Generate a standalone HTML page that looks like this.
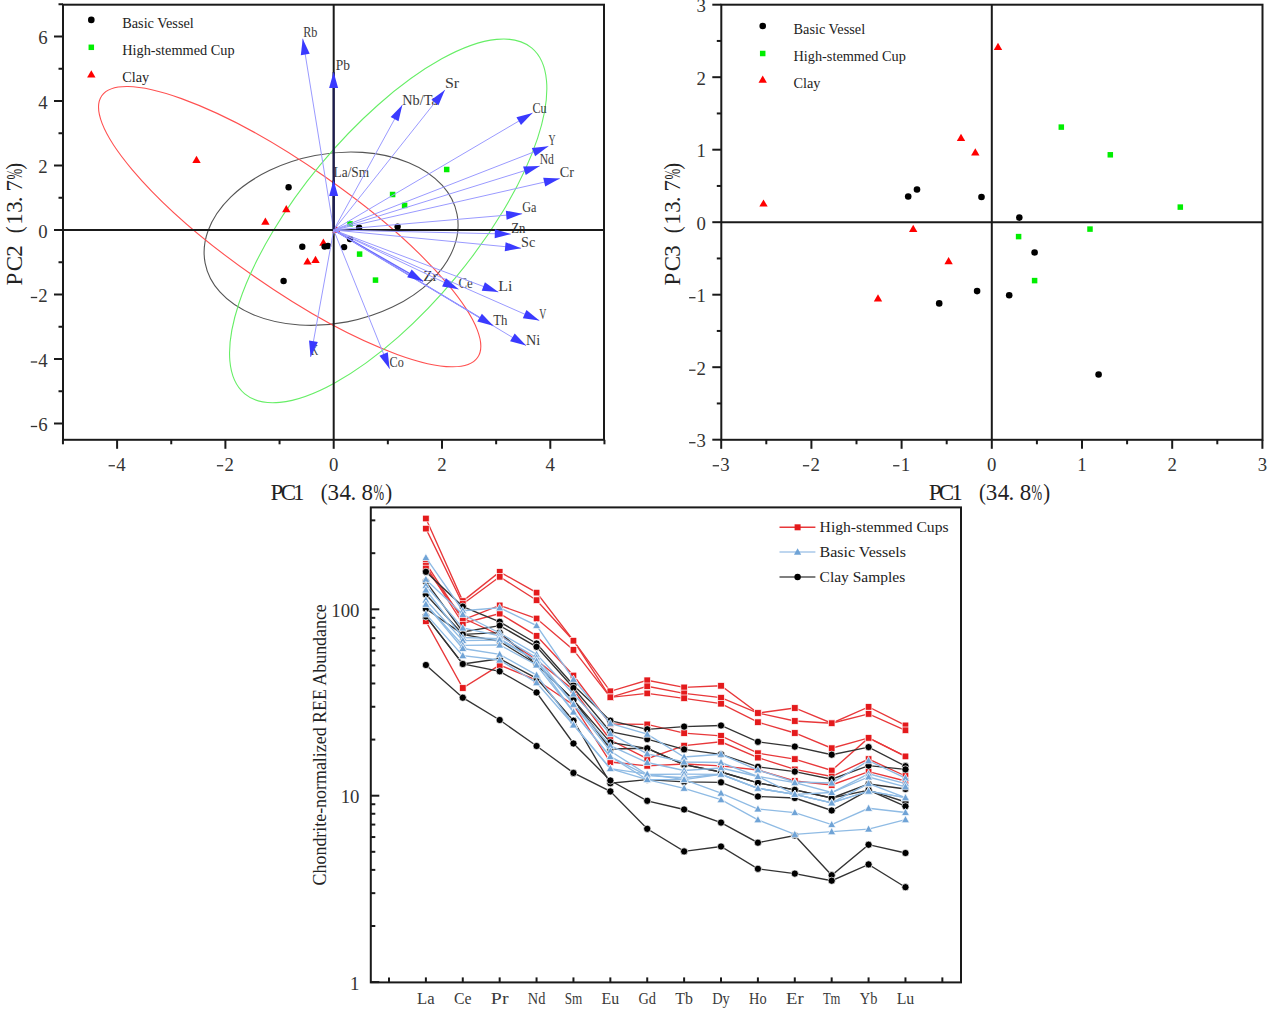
<!DOCTYPE html><html><head><meta charset="utf-8"><style>html,body{margin:0;padding:0;background:#fff;overflow:hidden}svg{display:block}</style></head><body><svg width="1269" height="1011" viewBox="0 0 1269 1011">
<rect width="1269" height="1011" fill="#fff"/>
<clipPath id="c1"><rect x="63.0" y="4.7" width="541.0" height="435.1"/></clipPath>
<g clip-path="url(#c1)">
<ellipse cx="331.1" cy="238.7" rx="128.3" ry="84.7" transform="rotate(-10.94 331.1 238.7)" fill="none" stroke="#555" stroke-width="1.1"/>
<ellipse cx="289.67" cy="226.64" rx="229.0" ry="61.14" transform="rotate(34.86 289.67 226.64)" fill="none" stroke="#ff5050" stroke-width="1.1"/>
<ellipse cx="388.2" cy="220.9" rx="224.7" ry="88.05" transform="rotate(-50.33 388.2 220.9)" fill="none" stroke="#66ee66" stroke-width="1.1"/>
</g>
<text x="303.20" y="37.30" font-family='"Liberation Serif", serif' font-size="14.5" fill="#3a3a3a" text-anchor="start" textLength="14.2" lengthAdjust="spacingAndGlyphs">Rb</text>
<text x="335.70" y="69.90" font-family='"Liberation Serif", serif' font-size="14.5" fill="#3a3a3a" text-anchor="start" textLength="14.2" lengthAdjust="spacingAndGlyphs">Pb</text>
<text x="402.30" y="104.60" font-family='"Liberation Serif", serif' font-size="14.5" fill="#3a3a3a" text-anchor="start" textLength="35.5" lengthAdjust="spacingAndGlyphs">Nb/Ta</text>
<text x="444.90" y="88.30" font-family='"Liberation Serif", serif' font-size="14.5" fill="#3a3a3a" text-anchor="start" textLength="14.2" lengthAdjust="spacingAndGlyphs">Sr</text>
<text x="532.50" y="112.60" font-family='"Liberation Serif", serif' font-size="14.5" fill="#3a3a3a" text-anchor="start" textLength="14.2" lengthAdjust="spacingAndGlyphs">Cu</text>
<text x="548.40" y="145.00" font-family='"Liberation Serif", serif' font-size="14.5" fill="#3a3a3a" text-anchor="start" textLength="7.1" lengthAdjust="spacingAndGlyphs">Y</text>
<text x="539.70" y="164.20" font-family='"Liberation Serif", serif' font-size="14.5" fill="#3a3a3a" text-anchor="start" textLength="14.2" lengthAdjust="spacingAndGlyphs">Nd</text>
<text x="559.80" y="177.00" font-family='"Liberation Serif", serif' font-size="14.5" fill="#3a3a3a" text-anchor="start" textLength="14.2" lengthAdjust="spacingAndGlyphs">Cr</text>
<text x="333.60" y="177.00" font-family='"Liberation Serif", serif' font-size="14.5" fill="#3a3a3a" text-anchor="start" textLength="35.5" lengthAdjust="spacingAndGlyphs">La/Sm</text>
<text x="522.20" y="212.00" font-family='"Liberation Serif", serif' font-size="14.5" fill="#3a3a3a" text-anchor="start" textLength="14.2" lengthAdjust="spacingAndGlyphs">Ga</text>
<text x="511.30" y="233.00" font-family='"Liberation Serif", serif' font-size="14.5" fill="#3a3a3a" text-anchor="start" textLength="14.2" lengthAdjust="spacingAndGlyphs">Zn</text>
<text x="521.10" y="246.60" font-family='"Liberation Serif", serif' font-size="14.5" fill="#3a3a3a" text-anchor="start" textLength="14.2" lengthAdjust="spacingAndGlyphs">Sc</text>
<text x="423.30" y="280.80" font-family='"Liberation Serif", serif' font-size="14.5" fill="#3a3a3a" text-anchor="start" textLength="14.2" lengthAdjust="spacingAndGlyphs">Zr</text>
<text x="458.50" y="288.00" font-family='"Liberation Serif", serif' font-size="14.5" fill="#3a3a3a" text-anchor="start" textLength="14.2" lengthAdjust="spacingAndGlyphs">Ce</text>
<text x="498.30" y="290.50" font-family='"Liberation Serif", serif' font-size="14.5" fill="#3a3a3a" text-anchor="start" textLength="14.2" lengthAdjust="spacingAndGlyphs">Li</text>
<text x="539.30" y="318.70" font-family='"Liberation Serif", serif' font-size="14.5" fill="#3a3a3a" text-anchor="start" textLength="7.1" lengthAdjust="spacingAndGlyphs">V</text>
<text x="493.30" y="324.70" font-family='"Liberation Serif", serif' font-size="14.5" fill="#3a3a3a" text-anchor="start" textLength="14.2" lengthAdjust="spacingAndGlyphs">Th</text>
<text x="526.10" y="344.50" font-family='"Liberation Serif", serif' font-size="14.5" fill="#3a3a3a" text-anchor="start" textLength="14.2" lengthAdjust="spacingAndGlyphs">Ni</text>
<text x="389.60" y="367.20" font-family='"Liberation Serif", serif' font-size="14.5" fill="#3a3a3a" text-anchor="start" textLength="14.2" lengthAdjust="spacingAndGlyphs">Co</text>
<text x="311.00" y="354.50" font-family='"Liberation Serif", serif' font-size="14.5" fill="#3a3a3a" text-anchor="start" textLength="7.1" lengthAdjust="spacingAndGlyphs">K</text>
<line x1="63.00" y1="230.00" x2="604.00" y2="230.00" stroke="#1a1a1a" stroke-width="2" />
<line x1="333.70" y1="4.70" x2="333.70" y2="439.80" stroke="#1a1a1a" stroke-width="2" />
<path d="M336.50 225.62L340.70 232.82L332.30 232.82Z" fill="#ff0000" />
<path d="M196.50 155.82L200.70 163.02L192.30 163.02Z" fill="#ff0000" />
<path d="M286.30 205.12L290.50 212.32L282.10 212.32Z" fill="#ff0000" />
<path d="M265.40 217.62L269.60 224.82L261.20 224.82Z" fill="#ff0000" />
<path d="M323.40 238.52L327.60 245.72L319.20 245.72Z" fill="#ff0000" />
<path d="M307.50 257.42L311.70 264.62L303.30 264.62Z" fill="#ff0000" />
<path d="M315.50 255.82L319.70 263.02L311.30 263.02Z" fill="#ff0000" />
<rect x="443.95" y="166.75" width="5.5" height="5.5" fill="#00ee00" />
<rect x="389.85" y="191.75" width="5.5" height="5.5" fill="#00ee00" />
<rect x="401.85" y="202.65" width="5.5" height="5.5" fill="#00ee00" />
<rect x="347.25" y="221.15" width="5.5" height="5.5" fill="#00ee00" />
<rect x="356.85" y="251.35" width="5.5" height="5.5" fill="#00ee00" />
<rect x="372.75" y="277.35" width="5.5" height="5.5" fill="#00ee00" />
<circle cx="288.60" cy="187.20" r="3.2" fill="#000" />
<circle cx="302.30" cy="246.80" r="3.2" fill="#000" />
<circle cx="324.60" cy="246.60" r="3.2" fill="#000" />
<circle cx="328.00" cy="246.00" r="3.2" fill="#000" />
<circle cx="283.60" cy="281.00" r="3.2" fill="#000" />
<circle cx="359.10" cy="227.80" r="3.2" fill="#000" />
<circle cx="397.60" cy="226.60" r="3.2" fill="#000" />
<circle cx="350.00" cy="239.10" r="3.2" fill="#000" />
<circle cx="344.10" cy="247.10" r="3.2" fill="#000" />
<line x1="333.70" y1="230.00" x2="302.70" y2="38.70" stroke="#9a9aff" stroke-width="1" />
<line x1="333.70" y1="230.00" x2="333.60" y2="71.90" stroke="#1c1c50" stroke-width="2" />
<line x1="333.70" y1="230.00" x2="402.30" y2="105.10" stroke="#9a9aff" stroke-width="1" />
<line x1="333.70" y1="230.00" x2="444.90" y2="89.90" stroke="#9a9aff" stroke-width="1" />
<line x1="333.70" y1="230.00" x2="532.50" y2="113.00" stroke="#9a9aff" stroke-width="1" />
<line x1="333.70" y1="230.00" x2="548.40" y2="146.30" stroke="#9a9aff" stroke-width="1" />
<line x1="333.70" y1="230.00" x2="539.70" y2="166.00" stroke="#9a9aff" stroke-width="1" />
<line x1="333.70" y1="230.00" x2="559.80" y2="178.60" stroke="#9a9aff" stroke-width="1" />
<line x1="333.70" y1="230.00" x2="333.60" y2="180.00" stroke="#1c1c50" stroke-width="2" />
<line x1="333.70" y1="230.00" x2="522.20" y2="213.80" stroke="#9a9aff" stroke-width="1" />
<line x1="333.70" y1="230.00" x2="510.80" y2="234.10" stroke="#9a9aff" stroke-width="1" />
<line x1="333.70" y1="230.00" x2="521.10" y2="248.20" stroke="#9a9aff" stroke-width="1" />
<line x1="333.70" y1="230.00" x2="423.30" y2="281.40" stroke="#6666ff" stroke-width="1.3" />
<line x1="333.70" y1="230.00" x2="458.50" y2="289.20" stroke="#9a9aff" stroke-width="1" />
<line x1="333.70" y1="230.00" x2="498.30" y2="292.10" stroke="#9a9aff" stroke-width="1" />
<line x1="333.70" y1="230.00" x2="539.30" y2="320.60" stroke="#9a9aff" stroke-width="1" />
<line x1="333.70" y1="230.00" x2="493.30" y2="325.80" stroke="#6666ff" stroke-width="1.3" />
<line x1="333.70" y1="230.00" x2="526.10" y2="345.60" stroke="#9a9aff" stroke-width="1" />
<line x1="333.70" y1="230.00" x2="389.60" y2="368.80" stroke="#9a9aff" stroke-width="1" />
<line x1="333.70" y1="230.00" x2="310.60" y2="357.00" stroke="#9a9aff" stroke-width="1" />
<path d="M302.70 38.70L309.70 53.77L300.82 55.21Z" fill="#3a3aff"/>
<path d="M333.60 71.90L338.11 87.90L329.11 87.90Z" fill="#3a3aff"/>
<path d="M402.30 105.10L398.54 121.29L390.65 116.96Z" fill="#3a3aff"/>
<path d="M444.90 89.90L438.48 105.23L431.43 99.63Z" fill="#3a3aff"/>
<path d="M532.50 113.00L520.99 124.99L516.43 117.24Z" fill="#3a3aff"/>
<path d="M548.40 146.30L535.13 156.30L531.86 147.92Z" fill="#3a3aff"/>
<path d="M539.70 166.00L525.76 175.04L523.09 166.45Z" fill="#3a3aff"/>
<path d="M559.80 178.60L545.20 186.53L543.20 177.76Z" fill="#3a3aff"/>
<path d="M333.60 180.00L338.13 195.99L329.13 196.01Z" fill="#3a3aff"/>
<path d="M522.20 213.80L506.64 219.65L505.87 210.69Z" fill="#3a3aff"/>
<path d="M510.80 234.10L494.70 238.23L494.91 229.23Z" fill="#3a3aff"/>
<path d="M521.10 248.20L504.74 251.13L505.61 242.17Z" fill="#3a3aff"/>
<path d="M423.30 281.40L407.18 277.34L411.66 269.54Z" fill="#3a3aff"/>
<path d="M458.50 289.20L442.12 286.41L445.97 278.28Z" fill="#3a3aff"/>
<path d="M498.30 292.10L481.74 290.66L484.92 282.24Z" fill="#3a3aff"/>
<path d="M539.30 320.60L522.84 318.27L526.47 310.03Z" fill="#3a3aff"/>
<path d="M493.30 325.80L477.27 321.42L481.90 313.71Z" fill="#3a3aff"/>
<path d="M526.10 345.60L510.07 341.22L514.70 333.50Z" fill="#3a3aff"/>
<path d="M389.60 368.80L379.45 355.64L387.80 352.28Z" fill="#3a3aff"/>
<path d="M310.60 357.00L309.04 340.45L317.89 342.06Z" fill="#3a3aff"/>
<rect x="63.0" y="4.7" width="541.0" height="435.1" fill="none" stroke="#1a1a1a" stroke-width="2"/>
<line x1="54.00" y1="423.50" x2="63.00" y2="423.50" stroke="#1a1a1a" stroke-width="2" />
<text x="47.70" y="431.25" font-family='"Liberation Serif", serif' font-size="18.8" fill="#333" text-anchor="end" >6</text>
<rect x="30.80" y="425.85" width="6.4" height="1.3" fill="#333"/>
<line x1="58.50" y1="391.25" x2="63.00" y2="391.25" stroke="#1a1a1a" stroke-width="2" />
<line x1="54.00" y1="359.00" x2="63.00" y2="359.00" stroke="#1a1a1a" stroke-width="2" />
<text x="47.70" y="366.75" font-family='"Liberation Serif", serif' font-size="18.8" fill="#333" text-anchor="end" >4</text>
<rect x="30.80" y="361.35" width="6.4" height="1.3" fill="#333"/>
<line x1="58.50" y1="326.75" x2="63.00" y2="326.75" stroke="#1a1a1a" stroke-width="2" />
<line x1="54.00" y1="294.50" x2="63.00" y2="294.50" stroke="#1a1a1a" stroke-width="2" />
<text x="47.70" y="302.25" font-family='"Liberation Serif", serif' font-size="18.8" fill="#333" text-anchor="end" >2</text>
<rect x="30.80" y="296.85" width="6.4" height="1.3" fill="#333"/>
<line x1="58.50" y1="262.25" x2="63.00" y2="262.25" stroke="#1a1a1a" stroke-width="2" />
<line x1="54.00" y1="230.00" x2="63.00" y2="230.00" stroke="#1a1a1a" stroke-width="2" />
<text x="47.70" y="237.75" font-family='"Liberation Serif", serif' font-size="18.8" fill="#333" text-anchor="end" >0</text>
<line x1="58.50" y1="197.75" x2="63.00" y2="197.75" stroke="#1a1a1a" stroke-width="2" />
<line x1="54.00" y1="165.50" x2="63.00" y2="165.50" stroke="#1a1a1a" stroke-width="2" />
<text x="47.70" y="173.25" font-family='"Liberation Serif", serif' font-size="18.8" fill="#333" text-anchor="end" >2</text>
<line x1="58.50" y1="133.25" x2="63.00" y2="133.25" stroke="#1a1a1a" stroke-width="2" />
<line x1="54.00" y1="101.00" x2="63.00" y2="101.00" stroke="#1a1a1a" stroke-width="2" />
<text x="47.70" y="108.75" font-family='"Liberation Serif", serif' font-size="18.8" fill="#333" text-anchor="end" >4</text>
<line x1="58.50" y1="68.75" x2="63.00" y2="68.75" stroke="#1a1a1a" stroke-width="2" />
<line x1="54.00" y1="36.50" x2="63.00" y2="36.50" stroke="#1a1a1a" stroke-width="2" />
<text x="47.70" y="44.25" font-family='"Liberation Serif", serif' font-size="18.8" fill="#333" text-anchor="end" >6</text>
<line x1="58.50" y1="4.25" x2="63.00" y2="4.25" stroke="#1a1a1a" stroke-width="2" />
<line x1="62.95" y1="439.80" x2="62.95" y2="444.30" stroke="#1a1a1a" stroke-width="2" />
<line x1="117.10" y1="439.80" x2="117.10" y2="448.80" stroke="#1a1a1a" stroke-width="2" />
<text x="120.90" y="470.50" font-family='"Liberation Serif", serif' font-size="18.8" fill="#333" text-anchor="middle" >4</text>
<rect x="108.60" y="465.10" width="6.3" height="1.3" fill="#333"/>
<line x1="171.25" y1="439.80" x2="171.25" y2="444.30" stroke="#1a1a1a" stroke-width="2" />
<line x1="225.40" y1="439.80" x2="225.40" y2="448.80" stroke="#1a1a1a" stroke-width="2" />
<text x="229.20" y="470.50" font-family='"Liberation Serif", serif' font-size="18.8" fill="#333" text-anchor="middle" >2</text>
<rect x="216.90" y="465.10" width="6.3" height="1.3" fill="#333"/>
<line x1="279.55" y1="439.80" x2="279.55" y2="444.30" stroke="#1a1a1a" stroke-width="2" />
<line x1="333.70" y1="439.80" x2="333.70" y2="448.80" stroke="#1a1a1a" stroke-width="2" />
<text x="333.70" y="470.50" font-family='"Liberation Serif", serif' font-size="18.8" fill="#333" text-anchor="middle" >0</text>
<line x1="387.85" y1="439.80" x2="387.85" y2="444.30" stroke="#1a1a1a" stroke-width="2" />
<line x1="442.00" y1="439.80" x2="442.00" y2="448.80" stroke="#1a1a1a" stroke-width="2" />
<text x="442.00" y="470.50" font-family='"Liberation Serif", serif' font-size="18.8" fill="#333" text-anchor="middle" >2</text>
<line x1="496.15" y1="439.80" x2="496.15" y2="444.30" stroke="#1a1a1a" stroke-width="2" />
<line x1="550.30" y1="439.80" x2="550.30" y2="448.80" stroke="#1a1a1a" stroke-width="2" />
<text x="550.30" y="470.50" font-family='"Liberation Serif", serif' font-size="18.8" fill="#333" text-anchor="middle" >4</text>
<line x1="604.45" y1="439.80" x2="604.45" y2="444.30" stroke="#1a1a1a" stroke-width="2" />
<circle cx="91.30" cy="19.90" r="3.3" fill="#000" />
<rect x="88.55" y="44.55" width="5.5" height="5.5" fill="#00ee00" />
<path d="M91.30 70.32L95.50 77.52L87.10 77.52Z" fill="#ff0000" />
<text x="122.20" y="27.50" font-family='"Liberation Serif", serif' font-size="14.3" fill="#222" text-anchor="start" >Basic Vessel</text>
<text x="122.20" y="54.60" font-family='"Liberation Serif", serif' font-size="14.3" fill="#222" text-anchor="start" >High-stemmed Cup</text>
<text x="122.20" y="81.80" font-family='"Liberation Serif", serif' font-size="14.3" fill="#222" text-anchor="start" >Clay</text>
<text x="277.00" y="499.80" font-family='"Liberation Serif", serif' font-size="23" fill="#222" text-anchor="middle" >P</text>
<text x="288.40" y="499.80" font-family='"Liberation Serif", serif' font-size="23" fill="#222" text-anchor="middle" >C</text>
<text x="298.80" y="499.80" font-family='"Liberation Serif", serif' font-size="23" fill="#222" text-anchor="middle" >1</text>
<text x="324.30" y="499.8" font-family='"Liberation Serif", serif' font-size="23" fill="#222" text-anchor="middle" transform="translate(324.30 499.8) scale(0.9 1.04) translate(-324.30 -499.8)">(</text>
<text x="333.30" y="499.80" font-family='"Liberation Serif", serif' font-size="23" fill="#222" text-anchor="middle" >3</text>
<text x="345.30" y="499.80" font-family='"Liberation Serif", serif' font-size="23" fill="#222" text-anchor="middle" >4</text>
<text x="353.30" y="499.80" font-family='"Liberation Serif", serif' font-size="23" fill="#222" text-anchor="middle" >.</text>
<text x="367.30" y="499.80" font-family='"Liberation Serif", serif' font-size="23" fill="#222" text-anchor="middle" >8</text>
<text x="378.80" y="499.80" font-family='"Liberation Serif", serif' font-size="23" fill="#222" text-anchor="middle" textLength="10.6" lengthAdjust="spacingAndGlyphs">%</text>
<text x="388.60" y="499.8" font-family='"Liberation Serif", serif' font-size="23" fill="#222" text-anchor="middle" transform="translate(388.60 499.8) scale(0.9 1.04) translate(-388.60 -499.8)">)</text>
<g transform="translate(21.8 0) rotate(-90)">
<text x="-279.00" y="0.00" font-family='"Liberation Serif", serif' font-size="23" fill="#222" text-anchor="middle" >P</text>
<text x="-263.60" y="0.00" font-family='"Liberation Serif", serif' font-size="23" fill="#222" text-anchor="middle" >C</text>
<text x="-251.10" y="0.00" font-family='"Liberation Serif", serif' font-size="23" fill="#222" text-anchor="middle" >2</text>
<text x="-229.80" y="0" font-family='"Liberation Serif", serif' font-size="23" fill="#222" text-anchor="middle" transform="translate(-229.80 0) scale(0.9 1.04) translate(229.80 0)">(</text>
<text x="-219.10" y="0.00" font-family='"Liberation Serif", serif' font-size="23" fill="#222" text-anchor="middle" >1</text>
<text x="-207.10" y="0.00" font-family='"Liberation Serif", serif' font-size="23" fill="#222" text-anchor="middle" >3</text>
<text x="-199.40" y="0.00" font-family='"Liberation Serif", serif' font-size="23" fill="#222" text-anchor="middle" >.</text>
<text x="-185.70" y="0.00" font-family='"Liberation Serif", serif' font-size="23" fill="#222" text-anchor="middle" >7</text>
<text x="-174.20" y="0.00" font-family='"Liberation Serif", serif' font-size="23" fill="#222" text-anchor="middle" textLength="10.6" lengthAdjust="spacingAndGlyphs">%</text>
<text x="-166.40" y="0" font-family='"Liberation Serif", serif' font-size="23" fill="#222" text-anchor="middle" transform="translate(-166.40 0) scale(0.9 1.04) translate(166.40 0)">)</text>
</g>
<line x1="721.30" y1="222.20" x2="1262.50" y2="222.20" stroke="#1a1a1a" stroke-width="2" />
<line x1="991.80" y1="4.70" x2="991.80" y2="439.80" stroke="#1a1a1a" stroke-width="2" />
<path d="M998.00 42.82L1002.20 50.02L993.80 50.02Z" fill="#ff0000" />
<path d="M961.00 133.82L965.20 141.02L956.80 141.02Z" fill="#ff0000" />
<path d="M975.30 148.22L979.50 155.42L971.10 155.42Z" fill="#ff0000" />
<path d="M763.50 199.42L767.70 206.62L759.30 206.62Z" fill="#ff0000" />
<path d="M913.20 224.82L917.40 232.02L909.00 232.02Z" fill="#ff0000" />
<path d="M948.60 257.12L952.80 264.32L944.40 264.32Z" fill="#ff0000" />
<path d="M878.00 294.32L882.20 301.52L873.80 301.52Z" fill="#ff0000" />
<rect x="1058.55" y="124.35" width="5.5" height="5.5" fill="#00ee00" />
<rect x="1107.55" y="152.05" width="5.5" height="5.5" fill="#00ee00" />
<rect x="1177.55" y="204.35" width="5.5" height="5.5" fill="#00ee00" />
<rect x="1087.25" y="226.35" width="5.5" height="5.5" fill="#00ee00" />
<rect x="1015.85" y="233.85" width="5.5" height="5.5" fill="#00ee00" />
<rect x="1031.85" y="277.85" width="5.5" height="5.5" fill="#00ee00" />
<circle cx="917.00" cy="189.50" r="3.3" fill="#000" />
<circle cx="908.20" cy="196.50" r="3.3" fill="#000" />
<circle cx="981.50" cy="197.00" r="3.3" fill="#000" />
<circle cx="1019.30" cy="217.60" r="3.3" fill="#000" />
<circle cx="1034.60" cy="252.50" r="3.3" fill="#000" />
<circle cx="1009.20" cy="295.20" r="3.3" fill="#000" />
<circle cx="1098.60" cy="374.50" r="3.3" fill="#000" />
<circle cx="977.10" cy="291.10" r="3.3" fill="#000" />
<circle cx="939.20" cy="303.40" r="3.3" fill="#000" />
<rect x="721.3" y="4.7" width="541.2" height="435.1" fill="none" stroke="#1a1a1a" stroke-width="2"/>
<line x1="712.30" y1="439.70" x2="721.30" y2="439.70" stroke="#1a1a1a" stroke-width="2" />
<text x="706.00" y="447.45" font-family='"Liberation Serif", serif' font-size="18.8" fill="#333" text-anchor="end" >3</text>
<rect x="689.10" y="442.05" width="6.4" height="1.3" fill="#333"/>
<line x1="716.80" y1="403.45" x2="721.30" y2="403.45" stroke="#1a1a1a" stroke-width="2" />
<line x1="712.30" y1="367.20" x2="721.30" y2="367.20" stroke="#1a1a1a" stroke-width="2" />
<text x="706.00" y="374.95" font-family='"Liberation Serif", serif' font-size="18.8" fill="#333" text-anchor="end" >2</text>
<rect x="689.10" y="369.55" width="6.4" height="1.3" fill="#333"/>
<line x1="716.80" y1="330.95" x2="721.30" y2="330.95" stroke="#1a1a1a" stroke-width="2" />
<line x1="712.30" y1="294.70" x2="721.30" y2="294.70" stroke="#1a1a1a" stroke-width="2" />
<text x="706.00" y="302.45" font-family='"Liberation Serif", serif' font-size="18.8" fill="#333" text-anchor="end" >1</text>
<rect x="689.10" y="297.05" width="6.4" height="1.3" fill="#333"/>
<line x1="716.80" y1="258.45" x2="721.30" y2="258.45" stroke="#1a1a1a" stroke-width="2" />
<line x1="712.30" y1="222.20" x2="721.30" y2="222.20" stroke="#1a1a1a" stroke-width="2" />
<text x="706.00" y="229.95" font-family='"Liberation Serif", serif' font-size="18.8" fill="#333" text-anchor="end" >0</text>
<line x1="716.80" y1="185.95" x2="721.30" y2="185.95" stroke="#1a1a1a" stroke-width="2" />
<line x1="712.30" y1="149.70" x2="721.30" y2="149.70" stroke="#1a1a1a" stroke-width="2" />
<text x="706.00" y="157.45" font-family='"Liberation Serif", serif' font-size="18.8" fill="#333" text-anchor="end" >1</text>
<line x1="716.80" y1="113.45" x2="721.30" y2="113.45" stroke="#1a1a1a" stroke-width="2" />
<line x1="712.30" y1="77.20" x2="721.30" y2="77.20" stroke="#1a1a1a" stroke-width="2" />
<text x="706.00" y="84.95" font-family='"Liberation Serif", serif' font-size="18.8" fill="#333" text-anchor="end" >2</text>
<line x1="716.80" y1="40.95" x2="721.30" y2="40.95" stroke="#1a1a1a" stroke-width="2" />
<line x1="712.30" y1="4.70" x2="721.30" y2="4.70" stroke="#1a1a1a" stroke-width="2" />
<text x="706.00" y="12.45" font-family='"Liberation Serif", serif' font-size="18.8" fill="#333" text-anchor="end" >3</text>
<line x1="721.20" y1="439.80" x2="721.20" y2="448.80" stroke="#1a1a1a" stroke-width="2" />
<text x="725.00" y="470.50" font-family='"Liberation Serif", serif' font-size="18.8" fill="#333" text-anchor="middle" >3</text>
<rect x="712.70" y="465.10" width="6.3" height="1.3" fill="#333"/>
<line x1="766.30" y1="439.80" x2="766.30" y2="444.30" stroke="#1a1a1a" stroke-width="2" />
<line x1="811.40" y1="439.80" x2="811.40" y2="448.80" stroke="#1a1a1a" stroke-width="2" />
<text x="815.20" y="470.50" font-family='"Liberation Serif", serif' font-size="18.8" fill="#333" text-anchor="middle" >2</text>
<rect x="802.90" y="465.10" width="6.3" height="1.3" fill="#333"/>
<line x1="856.50" y1="439.80" x2="856.50" y2="444.30" stroke="#1a1a1a" stroke-width="2" />
<line x1="901.60" y1="439.80" x2="901.60" y2="448.80" stroke="#1a1a1a" stroke-width="2" />
<text x="905.40" y="470.50" font-family='"Liberation Serif", serif' font-size="18.8" fill="#333" text-anchor="middle" >1</text>
<rect x="893.10" y="465.10" width="6.3" height="1.3" fill="#333"/>
<line x1="946.70" y1="439.80" x2="946.70" y2="444.30" stroke="#1a1a1a" stroke-width="2" />
<line x1="991.80" y1="439.80" x2="991.80" y2="448.80" stroke="#1a1a1a" stroke-width="2" />
<text x="991.80" y="470.50" font-family='"Liberation Serif", serif' font-size="18.8" fill="#333" text-anchor="middle" >0</text>
<line x1="1036.90" y1="439.80" x2="1036.90" y2="444.30" stroke="#1a1a1a" stroke-width="2" />
<line x1="1082.00" y1="439.80" x2="1082.00" y2="448.80" stroke="#1a1a1a" stroke-width="2" />
<text x="1082.00" y="470.50" font-family='"Liberation Serif", serif' font-size="18.8" fill="#333" text-anchor="middle" >1</text>
<line x1="1127.10" y1="439.80" x2="1127.10" y2="444.30" stroke="#1a1a1a" stroke-width="2" />
<line x1="1172.20" y1="439.80" x2="1172.20" y2="448.80" stroke="#1a1a1a" stroke-width="2" />
<text x="1172.20" y="470.50" font-family='"Liberation Serif", serif' font-size="18.8" fill="#333" text-anchor="middle" >2</text>
<line x1="1217.30" y1="439.80" x2="1217.30" y2="444.30" stroke="#1a1a1a" stroke-width="2" />
<line x1="1262.40" y1="439.80" x2="1262.40" y2="448.80" stroke="#1a1a1a" stroke-width="2" />
<text x="1262.40" y="470.50" font-family='"Liberation Serif", serif' font-size="18.8" fill="#333" text-anchor="middle" >3</text>
<circle cx="762.70" cy="26.00" r="3.3" fill="#000" />
<rect x="759.95" y="50.75" width="5.5" height="5.5" fill="#00ee00" />
<path d="M762.70 75.62L766.90 82.82L758.50 82.82Z" fill="#ff0000" />
<text x="793.50" y="33.70" font-family='"Liberation Serif", serif' font-size="14.3" fill="#222" text-anchor="start" >Basic Vessel</text>
<text x="793.50" y="60.80" font-family='"Liberation Serif", serif' font-size="14.3" fill="#222" text-anchor="start" >High-stemmed Cup</text>
<text x="793.50" y="88.00" font-family='"Liberation Serif", serif' font-size="14.3" fill="#222" text-anchor="start" >Clay</text>
<text x="935.10" y="499.80" font-family='"Liberation Serif", serif' font-size="23" fill="#222" text-anchor="middle" >P</text>
<text x="946.50" y="499.80" font-family='"Liberation Serif", serif' font-size="23" fill="#222" text-anchor="middle" >C</text>
<text x="956.90" y="499.80" font-family='"Liberation Serif", serif' font-size="23" fill="#222" text-anchor="middle" >1</text>
<text x="982.40" y="499.8" font-family='"Liberation Serif", serif' font-size="23" fill="#222" text-anchor="middle" transform="translate(982.40 499.8) scale(0.9 1.04) translate(-982.40 -499.8)">(</text>
<text x="991.40" y="499.80" font-family='"Liberation Serif", serif' font-size="23" fill="#222" text-anchor="middle" >3</text>
<text x="1003.40" y="499.80" font-family='"Liberation Serif", serif' font-size="23" fill="#222" text-anchor="middle" >4</text>
<text x="1011.40" y="499.80" font-family='"Liberation Serif", serif' font-size="23" fill="#222" text-anchor="middle" >.</text>
<text x="1025.40" y="499.80" font-family='"Liberation Serif", serif' font-size="23" fill="#222" text-anchor="middle" >8</text>
<text x="1036.90" y="499.80" font-family='"Liberation Serif", serif' font-size="23" fill="#222" text-anchor="middle" textLength="10.6" lengthAdjust="spacingAndGlyphs">%</text>
<text x="1046.70" y="499.8" font-family='"Liberation Serif", serif' font-size="23" fill="#222" text-anchor="middle" transform="translate(1046.70 499.8) scale(0.9 1.04) translate(-1046.70 -499.8)">)</text>
<g transform="translate(680.2 0) rotate(-90)">
<text x="-279.00" y="0.00" font-family='"Liberation Serif", serif' font-size="23" fill="#222" text-anchor="middle" >P</text>
<text x="-263.60" y="0.00" font-family='"Liberation Serif", serif' font-size="23" fill="#222" text-anchor="middle" >C</text>
<text x="-251.10" y="0.00" font-family='"Liberation Serif", serif' font-size="23" fill="#222" text-anchor="middle" >3</text>
<text x="-229.80" y="0" font-family='"Liberation Serif", serif' font-size="23" fill="#222" text-anchor="middle" transform="translate(-229.80 0) scale(0.9 1.04) translate(229.80 0)">(</text>
<text x="-219.10" y="0.00" font-family='"Liberation Serif", serif' font-size="23" fill="#222" text-anchor="middle" >1</text>
<text x="-207.10" y="0.00" font-family='"Liberation Serif", serif' font-size="23" fill="#222" text-anchor="middle" >3</text>
<text x="-199.40" y="0.00" font-family='"Liberation Serif", serif' font-size="23" fill="#222" text-anchor="middle" >.</text>
<text x="-185.70" y="0.00" font-family='"Liberation Serif", serif' font-size="23" fill="#222" text-anchor="middle" >7</text>
<text x="-174.20" y="0.00" font-family='"Liberation Serif", serif' font-size="23" fill="#222" text-anchor="middle" textLength="10.6" lengthAdjust="spacingAndGlyphs">%</text>
<text x="-166.40" y="0" font-family='"Liberation Serif", serif' font-size="23" fill="#222" text-anchor="middle" transform="translate(-166.40 0) scale(0.9 1.04) translate(166.40 0)">)</text>
</g>
<polyline points="425.9,518.5 462.8,601.1 499.7,571.9 536.6,592.6 573.5,640.7 610.3,691.3 647.2,680.3 684.1,687.4 721.0,685.8 757.9,713.0 794.8,708.0 831.7,723.2 868.6,706.9 905.5,725.4" fill="none" stroke="#e8383a" stroke-width="1.35"/>
<rect x="422.60" y="515.20" width="6.6" height="6.6" fill="#e41a1c" stroke="#fff" stroke-width="0.7"/>
<rect x="459.49" y="597.80" width="6.6" height="6.6" fill="#e41a1c" stroke="#fff" stroke-width="0.7"/>
<rect x="496.38" y="568.60" width="6.6" height="6.6" fill="#e41a1c" stroke="#fff" stroke-width="0.7"/>
<rect x="533.27" y="589.30" width="6.6" height="6.6" fill="#e41a1c" stroke="#fff" stroke-width="0.7"/>
<rect x="570.16" y="637.40" width="6.6" height="6.6" fill="#e41a1c" stroke="#fff" stroke-width="0.7"/>
<rect x="607.05" y="688.00" width="6.6" height="6.6" fill="#e41a1c" stroke="#fff" stroke-width="0.7"/>
<rect x="643.94" y="677.00" width="6.6" height="6.6" fill="#e41a1c" stroke="#fff" stroke-width="0.7"/>
<rect x="680.83" y="684.10" width="6.6" height="6.6" fill="#e41a1c" stroke="#fff" stroke-width="0.7"/>
<rect x="717.72" y="682.50" width="6.6" height="6.6" fill="#e41a1c" stroke="#fff" stroke-width="0.7"/>
<rect x="754.61" y="709.70" width="6.6" height="6.6" fill="#e41a1c" stroke="#fff" stroke-width="0.7"/>
<rect x="791.50" y="704.70" width="6.6" height="6.6" fill="#e41a1c" stroke="#fff" stroke-width="0.7"/>
<rect x="828.39" y="719.90" width="6.6" height="6.6" fill="#e41a1c" stroke="#fff" stroke-width="0.7"/>
<rect x="865.28" y="703.60" width="6.6" height="6.6" fill="#e41a1c" stroke="#fff" stroke-width="0.7"/>
<rect x="902.17" y="722.10" width="6.6" height="6.6" fill="#e41a1c" stroke="#fff" stroke-width="0.7"/>
<polyline points="425.9,528.6 462.8,604.0 499.7,576.8 536.6,600.2 573.5,640.7 610.3,697.3 647.2,686.3 684.1,693.4 721.0,697.7 757.9,713.0 794.8,721.0 831.7,723.2 868.6,713.9 905.5,730.3" fill="none" stroke="#e8383a" stroke-width="1.35"/>
<rect x="422.60" y="525.30" width="6.6" height="6.6" fill="#e41a1c" stroke="#fff" stroke-width="0.7"/>
<rect x="459.49" y="600.70" width="6.6" height="6.6" fill="#e41a1c" stroke="#fff" stroke-width="0.7"/>
<rect x="496.38" y="573.50" width="6.6" height="6.6" fill="#e41a1c" stroke="#fff" stroke-width="0.7"/>
<rect x="533.27" y="596.90" width="6.6" height="6.6" fill="#e41a1c" stroke="#fff" stroke-width="0.7"/>
<rect x="570.16" y="637.40" width="6.6" height="6.6" fill="#e41a1c" stroke="#fff" stroke-width="0.7"/>
<rect x="607.05" y="694.00" width="6.6" height="6.6" fill="#e41a1c" stroke="#fff" stroke-width="0.7"/>
<rect x="643.94" y="683.00" width="6.6" height="6.6" fill="#e41a1c" stroke="#fff" stroke-width="0.7"/>
<rect x="680.83" y="690.10" width="6.6" height="6.6" fill="#e41a1c" stroke="#fff" stroke-width="0.7"/>
<rect x="717.72" y="694.40" width="6.6" height="6.6" fill="#e41a1c" stroke="#fff" stroke-width="0.7"/>
<rect x="754.61" y="709.70" width="6.6" height="6.6" fill="#e41a1c" stroke="#fff" stroke-width="0.7"/>
<rect x="791.50" y="717.70" width="6.6" height="6.6" fill="#e41a1c" stroke="#fff" stroke-width="0.7"/>
<rect x="828.39" y="719.90" width="6.6" height="6.6" fill="#e41a1c" stroke="#fff" stroke-width="0.7"/>
<rect x="865.28" y="710.60" width="6.6" height="6.6" fill="#e41a1c" stroke="#fff" stroke-width="0.7"/>
<rect x="902.17" y="727.00" width="6.6" height="6.6" fill="#e41a1c" stroke="#fff" stroke-width="0.7"/>
<polyline points="425.9,563.4 462.8,620.0 499.7,605.4 536.6,618.5 573.5,649.9 610.3,697.3 647.2,693.4 684.1,698.3 721.0,703.7 757.9,722.2 794.8,733.0 831.7,748.2 868.6,737.9 905.5,756.4" fill="none" stroke="#e8383a" stroke-width="1.35"/>
<rect x="422.60" y="560.10" width="6.6" height="6.6" fill="#e41a1c" stroke="#fff" stroke-width="0.7"/>
<rect x="459.49" y="616.70" width="6.6" height="6.6" fill="#e41a1c" stroke="#fff" stroke-width="0.7"/>
<rect x="496.38" y="602.10" width="6.6" height="6.6" fill="#e41a1c" stroke="#fff" stroke-width="0.7"/>
<rect x="533.27" y="615.20" width="6.6" height="6.6" fill="#e41a1c" stroke="#fff" stroke-width="0.7"/>
<rect x="570.16" y="646.60" width="6.6" height="6.6" fill="#e41a1c" stroke="#fff" stroke-width="0.7"/>
<rect x="607.05" y="694.00" width="6.6" height="6.6" fill="#e41a1c" stroke="#fff" stroke-width="0.7"/>
<rect x="643.94" y="690.10" width="6.6" height="6.6" fill="#e41a1c" stroke="#fff" stroke-width="0.7"/>
<rect x="680.83" y="695.00" width="6.6" height="6.6" fill="#e41a1c" stroke="#fff" stroke-width="0.7"/>
<rect x="717.72" y="700.40" width="6.6" height="6.6" fill="#e41a1c" stroke="#fff" stroke-width="0.7"/>
<rect x="754.61" y="718.90" width="6.6" height="6.6" fill="#e41a1c" stroke="#fff" stroke-width="0.7"/>
<rect x="791.50" y="729.70" width="6.6" height="6.6" fill="#e41a1c" stroke="#fff" stroke-width="0.7"/>
<rect x="828.39" y="744.90" width="6.6" height="6.6" fill="#e41a1c" stroke="#fff" stroke-width="0.7"/>
<rect x="865.28" y="734.60" width="6.6" height="6.6" fill="#e41a1c" stroke="#fff" stroke-width="0.7"/>
<rect x="902.17" y="753.10" width="6.6" height="6.6" fill="#e41a1c" stroke="#fff" stroke-width="0.7"/>
<polyline points="425.9,566.0 462.8,623.5 499.7,613.6 536.6,635.9 573.5,675.5 610.3,724.0 647.2,724.4 684.1,733.1 721.0,735.8 757.9,753.2 794.8,759.1 831.7,770.5 868.6,737.9 905.5,756.4" fill="none" stroke="#e8383a" stroke-width="1.35"/>
<rect x="422.60" y="562.70" width="6.6" height="6.6" fill="#e41a1c" stroke="#fff" stroke-width="0.7"/>
<rect x="459.49" y="620.20" width="6.6" height="6.6" fill="#e41a1c" stroke="#fff" stroke-width="0.7"/>
<rect x="496.38" y="610.30" width="6.6" height="6.6" fill="#e41a1c" stroke="#fff" stroke-width="0.7"/>
<rect x="533.27" y="632.60" width="6.6" height="6.6" fill="#e41a1c" stroke="#fff" stroke-width="0.7"/>
<rect x="570.16" y="672.20" width="6.6" height="6.6" fill="#e41a1c" stroke="#fff" stroke-width="0.7"/>
<rect x="607.05" y="720.70" width="6.6" height="6.6" fill="#e41a1c" stroke="#fff" stroke-width="0.7"/>
<rect x="643.94" y="721.10" width="6.6" height="6.6" fill="#e41a1c" stroke="#fff" stroke-width="0.7"/>
<rect x="680.83" y="729.80" width="6.6" height="6.6" fill="#e41a1c" stroke="#fff" stroke-width="0.7"/>
<rect x="717.72" y="732.50" width="6.6" height="6.6" fill="#e41a1c" stroke="#fff" stroke-width="0.7"/>
<rect x="754.61" y="749.90" width="6.6" height="6.6" fill="#e41a1c" stroke="#fff" stroke-width="0.7"/>
<rect x="791.50" y="755.80" width="6.6" height="6.6" fill="#e41a1c" stroke="#fff" stroke-width="0.7"/>
<rect x="828.39" y="767.20" width="6.6" height="6.6" fill="#e41a1c" stroke="#fff" stroke-width="0.7"/>
<rect x="865.28" y="734.60" width="6.6" height="6.6" fill="#e41a1c" stroke="#fff" stroke-width="0.7"/>
<rect x="902.17" y="753.10" width="6.6" height="6.6" fill="#e41a1c" stroke="#fff" stroke-width="0.7"/>
<polyline points="425.9,568.5 462.8,618.0 499.7,635.0 536.6,660.0 573.5,690.0 610.3,740.0 647.2,758.7 684.1,745.6 721.0,741.8 757.9,757.6 794.8,769.4 831.7,776.5 868.6,759.1 905.5,776.0" fill="none" stroke="#e8383a" stroke-width="1.35"/>
<rect x="422.60" y="565.20" width="6.6" height="6.6" fill="#e41a1c" stroke="#fff" stroke-width="0.7"/>
<rect x="459.49" y="614.70" width="6.6" height="6.6" fill="#e41a1c" stroke="#fff" stroke-width="0.7"/>
<rect x="496.38" y="631.70" width="6.6" height="6.6" fill="#e41a1c" stroke="#fff" stroke-width="0.7"/>
<rect x="533.27" y="656.70" width="6.6" height="6.6" fill="#e41a1c" stroke="#fff" stroke-width="0.7"/>
<rect x="570.16" y="686.70" width="6.6" height="6.6" fill="#e41a1c" stroke="#fff" stroke-width="0.7"/>
<rect x="607.05" y="736.70" width="6.6" height="6.6" fill="#e41a1c" stroke="#fff" stroke-width="0.7"/>
<rect x="643.94" y="755.40" width="6.6" height="6.6" fill="#e41a1c" stroke="#fff" stroke-width="0.7"/>
<rect x="680.83" y="742.30" width="6.6" height="6.6" fill="#e41a1c" stroke="#fff" stroke-width="0.7"/>
<rect x="717.72" y="738.50" width="6.6" height="6.6" fill="#e41a1c" stroke="#fff" stroke-width="0.7"/>
<rect x="754.61" y="754.30" width="6.6" height="6.6" fill="#e41a1c" stroke="#fff" stroke-width="0.7"/>
<rect x="791.50" y="766.10" width="6.6" height="6.6" fill="#e41a1c" stroke="#fff" stroke-width="0.7"/>
<rect x="828.39" y="773.20" width="6.6" height="6.6" fill="#e41a1c" stroke="#fff" stroke-width="0.7"/>
<rect x="865.28" y="755.80" width="6.6" height="6.6" fill="#e41a1c" stroke="#fff" stroke-width="0.7"/>
<rect x="902.17" y="772.70" width="6.6" height="6.6" fill="#e41a1c" stroke="#fff" stroke-width="0.7"/>
<polyline points="425.9,621.3 462.8,688.0 499.7,665.1 536.6,680.0 573.5,705.0 610.3,762.0 647.2,765.8 684.1,764.0 721.0,765.8 757.9,770.0 794.8,781.0 831.7,785.0 868.6,771.6 905.5,781.0" fill="none" stroke="#e8383a" stroke-width="1.35"/>
<rect x="422.60" y="618.00" width="6.6" height="6.6" fill="#e41a1c" stroke="#fff" stroke-width="0.7"/>
<rect x="459.49" y="684.70" width="6.6" height="6.6" fill="#e41a1c" stroke="#fff" stroke-width="0.7"/>
<rect x="496.38" y="661.80" width="6.6" height="6.6" fill="#e41a1c" stroke="#fff" stroke-width="0.7"/>
<rect x="533.27" y="676.70" width="6.6" height="6.6" fill="#e41a1c" stroke="#fff" stroke-width="0.7"/>
<rect x="570.16" y="701.70" width="6.6" height="6.6" fill="#e41a1c" stroke="#fff" stroke-width="0.7"/>
<rect x="607.05" y="758.70" width="6.6" height="6.6" fill="#e41a1c" stroke="#fff" stroke-width="0.7"/>
<rect x="643.94" y="762.50" width="6.6" height="6.6" fill="#e41a1c" stroke="#fff" stroke-width="0.7"/>
<rect x="680.83" y="760.70" width="6.6" height="6.6" fill="#e41a1c" stroke="#fff" stroke-width="0.7"/>
<rect x="717.72" y="762.50" width="6.6" height="6.6" fill="#e41a1c" stroke="#fff" stroke-width="0.7"/>
<rect x="754.61" y="766.70" width="6.6" height="6.6" fill="#e41a1c" stroke="#fff" stroke-width="0.7"/>
<rect x="791.50" y="777.70" width="6.6" height="6.6" fill="#e41a1c" stroke="#fff" stroke-width="0.7"/>
<rect x="828.39" y="781.70" width="6.6" height="6.6" fill="#e41a1c" stroke="#fff" stroke-width="0.7"/>
<rect x="865.28" y="768.30" width="6.6" height="6.6" fill="#e41a1c" stroke="#fff" stroke-width="0.7"/>
<rect x="902.17" y="777.70" width="6.6" height="6.6" fill="#e41a1c" stroke="#fff" stroke-width="0.7"/>
<polyline points="425.9,571.8 462.8,606.6 499.7,621.8 536.6,643.5 573.5,685.3 610.3,720.7 647.2,729.3 684.1,726.6 721.0,725.5 757.9,741.8 794.8,746.6 831.7,754.7 868.6,747.1 905.5,766.2" fill="none" stroke="#333" stroke-width="1.35"/>
<circle cx="425.90" cy="571.80" r="3.6" fill="#000" stroke="#fff" stroke-width="0.7"/>
<circle cx="462.79" cy="606.60" r="3.6" fill="#000" stroke="#fff" stroke-width="0.7"/>
<circle cx="499.68" cy="621.80" r="3.6" fill="#000" stroke="#fff" stroke-width="0.7"/>
<circle cx="536.57" cy="643.50" r="3.6" fill="#000" stroke="#fff" stroke-width="0.7"/>
<circle cx="573.46" cy="685.30" r="3.6" fill="#000" stroke="#fff" stroke-width="0.7"/>
<circle cx="610.35" cy="720.70" r="3.6" fill="#000" stroke="#fff" stroke-width="0.7"/>
<circle cx="647.24" cy="729.30" r="3.6" fill="#000" stroke="#fff" stroke-width="0.7"/>
<circle cx="684.13" cy="726.60" r="3.6" fill="#000" stroke="#fff" stroke-width="0.7"/>
<circle cx="721.02" cy="725.50" r="3.6" fill="#000" stroke="#fff" stroke-width="0.7"/>
<circle cx="757.91" cy="741.80" r="3.6" fill="#000" stroke="#fff" stroke-width="0.7"/>
<circle cx="794.80" cy="746.60" r="3.6" fill="#000" stroke="#fff" stroke-width="0.7"/>
<circle cx="831.69" cy="754.70" r="3.6" fill="#000" stroke="#fff" stroke-width="0.7"/>
<circle cx="868.58" cy="747.10" r="3.6" fill="#000" stroke="#fff" stroke-width="0.7"/>
<circle cx="905.47" cy="766.20" r="3.6" fill="#000" stroke="#fff" stroke-width="0.7"/>
<polyline points="425.9,581.6 462.8,631.9 499.7,625.6 536.6,646.8 573.5,688.0 610.3,731.6 647.2,739.1 684.1,749.4 721.0,754.3 757.9,766.8 794.8,771.6 831.7,779.2 868.6,765.6 905.5,769.4" fill="none" stroke="#333" stroke-width="1.35"/>
<circle cx="425.90" cy="581.60" r="3.6" fill="#000" stroke="#fff" stroke-width="0.7"/>
<circle cx="462.79" cy="631.90" r="3.6" fill="#000" stroke="#fff" stroke-width="0.7"/>
<circle cx="499.68" cy="625.60" r="3.6" fill="#000" stroke="#fff" stroke-width="0.7"/>
<circle cx="536.57" cy="646.80" r="3.6" fill="#000" stroke="#fff" stroke-width="0.7"/>
<circle cx="573.46" cy="688.00" r="3.6" fill="#000" stroke="#fff" stroke-width="0.7"/>
<circle cx="610.35" cy="731.60" r="3.6" fill="#000" stroke="#fff" stroke-width="0.7"/>
<circle cx="647.24" cy="739.10" r="3.6" fill="#000" stroke="#fff" stroke-width="0.7"/>
<circle cx="684.13" cy="749.40" r="3.6" fill="#000" stroke="#fff" stroke-width="0.7"/>
<circle cx="721.02" cy="754.30" r="3.6" fill="#000" stroke="#fff" stroke-width="0.7"/>
<circle cx="757.91" cy="766.80" r="3.6" fill="#000" stroke="#fff" stroke-width="0.7"/>
<circle cx="794.80" cy="771.60" r="3.6" fill="#000" stroke="#fff" stroke-width="0.7"/>
<circle cx="831.69" cy="779.20" r="3.6" fill="#000" stroke="#fff" stroke-width="0.7"/>
<circle cx="868.58" cy="765.60" r="3.6" fill="#000" stroke="#fff" stroke-width="0.7"/>
<circle cx="905.47" cy="769.40" r="3.6" fill="#000" stroke="#fff" stroke-width="0.7"/>
<polyline points="425.9,594.5 462.8,634.3 499.7,632.6 536.6,664.2 573.5,700.0 610.3,742.4 647.2,748.3 684.1,764.7 721.0,772.0 757.9,782.9 794.8,789.8 831.7,798.0 868.6,784.0 905.5,789.0" fill="none" stroke="#333" stroke-width="1.35"/>
<circle cx="425.90" cy="594.50" r="3.6" fill="#000" stroke="#fff" stroke-width="0.7"/>
<circle cx="462.79" cy="634.30" r="3.6" fill="#000" stroke="#fff" stroke-width="0.7"/>
<circle cx="499.68" cy="632.60" r="3.6" fill="#000" stroke="#fff" stroke-width="0.7"/>
<circle cx="536.57" cy="664.20" r="3.6" fill="#000" stroke="#fff" stroke-width="0.7"/>
<circle cx="573.46" cy="700.00" r="3.6" fill="#000" stroke="#fff" stroke-width="0.7"/>
<circle cx="610.35" cy="742.40" r="3.6" fill="#000" stroke="#fff" stroke-width="0.7"/>
<circle cx="647.24" cy="748.30" r="3.6" fill="#000" stroke="#fff" stroke-width="0.7"/>
<circle cx="684.13" cy="764.70" r="3.6" fill="#000" stroke="#fff" stroke-width="0.7"/>
<circle cx="721.02" cy="772.00" r="3.6" fill="#000" stroke="#fff" stroke-width="0.7"/>
<circle cx="757.91" cy="782.90" r="3.6" fill="#000" stroke="#fff" stroke-width="0.7"/>
<circle cx="794.80" cy="789.80" r="3.6" fill="#000" stroke="#fff" stroke-width="0.7"/>
<circle cx="831.69" cy="798.00" r="3.6" fill="#000" stroke="#fff" stroke-width="0.7"/>
<circle cx="868.58" cy="784.00" r="3.6" fill="#000" stroke="#fff" stroke-width="0.7"/>
<circle cx="905.47" cy="789.00" r="3.6" fill="#000" stroke="#fff" stroke-width="0.7"/>
<polyline points="425.9,608.8 462.8,634.3 499.7,641.3 536.6,664.2 573.5,700.0 610.3,749.0 647.2,748.3 684.1,764.7 721.0,772.0 757.9,782.9 794.8,789.8 831.7,798.0 868.6,790.1 905.5,802.0" fill="none" stroke="#333" stroke-width="1.35"/>
<circle cx="425.90" cy="608.80" r="3.6" fill="#000" stroke="#fff" stroke-width="0.7"/>
<circle cx="462.79" cy="634.30" r="3.6" fill="#000" stroke="#fff" stroke-width="0.7"/>
<circle cx="499.68" cy="641.30" r="3.6" fill="#000" stroke="#fff" stroke-width="0.7"/>
<circle cx="536.57" cy="664.20" r="3.6" fill="#000" stroke="#fff" stroke-width="0.7"/>
<circle cx="573.46" cy="700.00" r="3.6" fill="#000" stroke="#fff" stroke-width="0.7"/>
<circle cx="610.35" cy="749.00" r="3.6" fill="#000" stroke="#fff" stroke-width="0.7"/>
<circle cx="647.24" cy="748.30" r="3.6" fill="#000" stroke="#fff" stroke-width="0.7"/>
<circle cx="684.13" cy="764.70" r="3.6" fill="#000" stroke="#fff" stroke-width="0.7"/>
<circle cx="721.02" cy="772.00" r="3.6" fill="#000" stroke="#fff" stroke-width="0.7"/>
<circle cx="757.91" cy="782.90" r="3.6" fill="#000" stroke="#fff" stroke-width="0.7"/>
<circle cx="794.80" cy="789.80" r="3.6" fill="#000" stroke="#fff" stroke-width="0.7"/>
<circle cx="831.69" cy="798.00" r="3.6" fill="#000" stroke="#fff" stroke-width="0.7"/>
<circle cx="868.58" cy="790.10" r="3.6" fill="#000" stroke="#fff" stroke-width="0.7"/>
<circle cx="905.47" cy="802.00" r="3.6" fill="#000" stroke="#fff" stroke-width="0.7"/>
<polyline points="425.9,616.4 462.8,664.0 499.7,658.8 536.6,678.3 573.5,720.7 610.3,783.2 647.2,779.6 684.1,781.8 721.0,782.3 757.9,796.5 794.8,798.0 831.7,810.5 868.6,790.1 905.5,806.3" fill="none" stroke="#333" stroke-width="1.35"/>
<circle cx="425.90" cy="616.40" r="3.6" fill="#000" stroke="#fff" stroke-width="0.7"/>
<circle cx="462.79" cy="664.00" r="3.6" fill="#000" stroke="#fff" stroke-width="0.7"/>
<circle cx="499.68" cy="658.80" r="3.6" fill="#000" stroke="#fff" stroke-width="0.7"/>
<circle cx="536.57" cy="678.30" r="3.6" fill="#000" stroke="#fff" stroke-width="0.7"/>
<circle cx="573.46" cy="720.70" r="3.6" fill="#000" stroke="#fff" stroke-width="0.7"/>
<circle cx="610.35" cy="783.20" r="3.6" fill="#000" stroke="#fff" stroke-width="0.7"/>
<circle cx="647.24" cy="779.60" r="3.6" fill="#000" stroke="#fff" stroke-width="0.7"/>
<circle cx="684.13" cy="781.80" r="3.6" fill="#000" stroke="#fff" stroke-width="0.7"/>
<circle cx="721.02" cy="782.30" r="3.6" fill="#000" stroke="#fff" stroke-width="0.7"/>
<circle cx="757.91" cy="796.50" r="3.6" fill="#000" stroke="#fff" stroke-width="0.7"/>
<circle cx="794.80" cy="798.00" r="3.6" fill="#000" stroke="#fff" stroke-width="0.7"/>
<circle cx="831.69" cy="810.50" r="3.6" fill="#000" stroke="#fff" stroke-width="0.7"/>
<circle cx="868.58" cy="790.10" r="3.6" fill="#000" stroke="#fff" stroke-width="0.7"/>
<circle cx="905.47" cy="806.30" r="3.6" fill="#000" stroke="#fff" stroke-width="0.7"/>
<polyline points="425.9,616.4 462.8,664.0 499.7,671.3 536.6,692.5 573.5,743.5 610.3,780.5 647.2,800.8 684.1,809.5 721.0,822.6 757.9,842.7 794.8,835.5 831.7,875.2 868.6,844.7 905.5,853.0" fill="none" stroke="#333" stroke-width="1.35"/>
<circle cx="425.90" cy="616.40" r="3.6" fill="#000" stroke="#fff" stroke-width="0.7"/>
<circle cx="462.79" cy="664.00" r="3.6" fill="#000" stroke="#fff" stroke-width="0.7"/>
<circle cx="499.68" cy="671.30" r="3.6" fill="#000" stroke="#fff" stroke-width="0.7"/>
<circle cx="536.57" cy="692.50" r="3.6" fill="#000" stroke="#fff" stroke-width="0.7"/>
<circle cx="573.46" cy="743.50" r="3.6" fill="#000" stroke="#fff" stroke-width="0.7"/>
<circle cx="610.35" cy="780.50" r="3.6" fill="#000" stroke="#fff" stroke-width="0.7"/>
<circle cx="647.24" cy="800.80" r="3.6" fill="#000" stroke="#fff" stroke-width="0.7"/>
<circle cx="684.13" cy="809.50" r="3.6" fill="#000" stroke="#fff" stroke-width="0.7"/>
<circle cx="721.02" cy="822.60" r="3.6" fill="#000" stroke="#fff" stroke-width="0.7"/>
<circle cx="757.91" cy="842.70" r="3.6" fill="#000" stroke="#fff" stroke-width="0.7"/>
<circle cx="794.80" cy="835.50" r="3.6" fill="#000" stroke="#fff" stroke-width="0.7"/>
<circle cx="831.69" cy="875.20" r="3.6" fill="#000" stroke="#fff" stroke-width="0.7"/>
<circle cx="868.58" cy="844.70" r="3.6" fill="#000" stroke="#fff" stroke-width="0.7"/>
<circle cx="905.47" cy="853.00" r="3.6" fill="#000" stroke="#fff" stroke-width="0.7"/>
<polyline points="425.9,665.0 462.8,697.7 499.7,720.0 536.6,746.0 573.5,772.9 610.3,791.4 647.2,828.8 684.1,851.4 721.0,846.5 757.9,868.8 794.8,873.6 831.7,880.7 868.6,864.4 905.5,887.2" fill="none" stroke="#333" stroke-width="1.35"/>
<circle cx="425.90" cy="665.00" r="3.6" fill="#000" stroke="#fff" stroke-width="0.7"/>
<circle cx="462.79" cy="697.70" r="3.6" fill="#000" stroke="#fff" stroke-width="0.7"/>
<circle cx="499.68" cy="720.00" r="3.6" fill="#000" stroke="#fff" stroke-width="0.7"/>
<circle cx="536.57" cy="746.00" r="3.6" fill="#000" stroke="#fff" stroke-width="0.7"/>
<circle cx="573.46" cy="772.90" r="3.6" fill="#000" stroke="#fff" stroke-width="0.7"/>
<circle cx="610.35" cy="791.40" r="3.6" fill="#000" stroke="#fff" stroke-width="0.7"/>
<circle cx="647.24" cy="828.80" r="3.6" fill="#000" stroke="#fff" stroke-width="0.7"/>
<circle cx="684.13" cy="851.40" r="3.6" fill="#000" stroke="#fff" stroke-width="0.7"/>
<circle cx="721.02" cy="846.50" r="3.6" fill="#000" stroke="#fff" stroke-width="0.7"/>
<circle cx="757.91" cy="868.80" r="3.6" fill="#000" stroke="#fff" stroke-width="0.7"/>
<circle cx="794.80" cy="873.60" r="3.6" fill="#000" stroke="#fff" stroke-width="0.7"/>
<circle cx="831.69" cy="880.70" r="3.6" fill="#000" stroke="#fff" stroke-width="0.7"/>
<circle cx="868.58" cy="864.40" r="3.6" fill="#000" stroke="#fff" stroke-width="0.7"/>
<circle cx="905.47" cy="887.20" r="3.6" fill="#000" stroke="#fff" stroke-width="0.7"/>
<polyline points="425.9,557.6 462.8,610.7 499.7,607.8 536.6,625.6 573.5,679.3 610.3,723.4 647.2,734.2 684.1,757.0 721.0,754.3 757.9,770.0 794.8,782.0 831.7,783.0 868.6,760.7 905.5,778.1" fill="none" stroke="#8fbbe4" stroke-width="1.35"/>
<path d="M425.90 553.42L429.90 560.62L421.90 560.62Z" fill="#6fa3d6" stroke="#fff" stroke-width="0.7"/>
<path d="M462.79 606.52L466.79 613.72L458.79 613.72Z" fill="#6fa3d6" stroke="#fff" stroke-width="0.7"/>
<path d="M499.68 603.62L503.68 610.82L495.68 610.82Z" fill="#6fa3d6" stroke="#fff" stroke-width="0.7"/>
<path d="M536.57 621.42L540.57 628.62L532.57 628.62Z" fill="#6fa3d6" stroke="#fff" stroke-width="0.7"/>
<path d="M573.46 675.12L577.46 682.32L569.46 682.32Z" fill="#6fa3d6" stroke="#fff" stroke-width="0.7"/>
<path d="M610.35 719.22L614.35 726.42L606.35 726.42Z" fill="#6fa3d6" stroke="#fff" stroke-width="0.7"/>
<path d="M647.24 730.02L651.24 737.22L643.24 737.22Z" fill="#6fa3d6" stroke="#fff" stroke-width="0.7"/>
<path d="M684.13 752.82L688.13 760.02L680.13 760.02Z" fill="#6fa3d6" stroke="#fff" stroke-width="0.7"/>
<path d="M721.02 750.12L725.02 757.32L717.02 757.32Z" fill="#6fa3d6" stroke="#fff" stroke-width="0.7"/>
<path d="M757.91 765.82L761.91 773.02L753.91 773.02Z" fill="#6fa3d6" stroke="#fff" stroke-width="0.7"/>
<path d="M794.80 777.82L798.80 785.02L790.80 785.02Z" fill="#6fa3d6" stroke="#fff" stroke-width="0.7"/>
<path d="M831.69 778.82L835.69 786.02L827.69 786.02Z" fill="#6fa3d6" stroke="#fff" stroke-width="0.7"/>
<path d="M868.58 756.52L872.58 763.72L864.58 763.72Z" fill="#6fa3d6" stroke="#fff" stroke-width="0.7"/>
<path d="M905.47 773.92L909.47 781.12L901.47 781.12Z" fill="#6fa3d6" stroke="#fff" stroke-width="0.7"/>
<polyline points="425.9,579.4 462.8,614.5 499.7,633.0 536.6,654.4 573.5,694.0 610.3,733.7 647.2,753.8 684.1,762.0 721.0,762.5 757.9,776.5 794.8,782.7 831.7,792.5 868.6,773.8 905.5,783.6" fill="none" stroke="#8fbbe4" stroke-width="1.35"/>
<path d="M425.90 575.22L429.90 582.42L421.90 582.42Z" fill="#6fa3d6" stroke="#fff" stroke-width="0.7"/>
<path d="M462.79 610.32L466.79 617.52L458.79 617.52Z" fill="#6fa3d6" stroke="#fff" stroke-width="0.7"/>
<path d="M499.68 628.82L503.68 636.02L495.68 636.02Z" fill="#6fa3d6" stroke="#fff" stroke-width="0.7"/>
<path d="M536.57 650.22L540.57 657.42L532.57 657.42Z" fill="#6fa3d6" stroke="#fff" stroke-width="0.7"/>
<path d="M573.46 689.82L577.46 697.02L569.46 697.02Z" fill="#6fa3d6" stroke="#fff" stroke-width="0.7"/>
<path d="M610.35 729.52L614.35 736.72L606.35 736.72Z" fill="#6fa3d6" stroke="#fff" stroke-width="0.7"/>
<path d="M647.24 749.62L651.24 756.82L643.24 756.82Z" fill="#6fa3d6" stroke="#fff" stroke-width="0.7"/>
<path d="M684.13 757.82L688.13 765.02L680.13 765.02Z" fill="#6fa3d6" stroke="#fff" stroke-width="0.7"/>
<path d="M721.02 758.32L725.02 765.52L717.02 765.52Z" fill="#6fa3d6" stroke="#fff" stroke-width="0.7"/>
<path d="M757.91 772.32L761.91 779.52L753.91 779.52Z" fill="#6fa3d6" stroke="#fff" stroke-width="0.7"/>
<path d="M794.80 778.52L798.80 785.72L790.80 785.72Z" fill="#6fa3d6" stroke="#fff" stroke-width="0.7"/>
<path d="M831.69 788.32L835.69 795.52L827.69 795.52Z" fill="#6fa3d6" stroke="#fff" stroke-width="0.7"/>
<path d="M868.58 769.62L872.58 776.82L864.58 776.82Z" fill="#6fa3d6" stroke="#fff" stroke-width="0.7"/>
<path d="M905.47 779.42L909.47 786.62L901.47 786.62Z" fill="#6fa3d6" stroke="#fff" stroke-width="0.7"/>
<polyline points="425.9,585.6 462.8,628.0 499.7,635.9 536.6,657.7 573.5,704.0 610.3,745.7 647.2,762.5 684.1,770.5 721.0,768.0 757.9,776.5 794.8,794.3 831.7,792.5 868.6,777.0 905.5,786.8" fill="none" stroke="#8fbbe4" stroke-width="1.35"/>
<path d="M425.90 581.42L429.90 588.62L421.90 588.62Z" fill="#6fa3d6" stroke="#fff" stroke-width="0.7"/>
<path d="M462.79 623.82L466.79 631.02L458.79 631.02Z" fill="#6fa3d6" stroke="#fff" stroke-width="0.7"/>
<path d="M499.68 631.72L503.68 638.92L495.68 638.92Z" fill="#6fa3d6" stroke="#fff" stroke-width="0.7"/>
<path d="M536.57 653.52L540.57 660.72L532.57 660.72Z" fill="#6fa3d6" stroke="#fff" stroke-width="0.7"/>
<path d="M573.46 699.82L577.46 707.02L569.46 707.02Z" fill="#6fa3d6" stroke="#fff" stroke-width="0.7"/>
<path d="M610.35 741.52L614.35 748.72L606.35 748.72Z" fill="#6fa3d6" stroke="#fff" stroke-width="0.7"/>
<path d="M647.24 758.32L651.24 765.52L643.24 765.52Z" fill="#6fa3d6" stroke="#fff" stroke-width="0.7"/>
<path d="M684.13 766.32L688.13 773.52L680.13 773.52Z" fill="#6fa3d6" stroke="#fff" stroke-width="0.7"/>
<path d="M721.02 763.82L725.02 771.02L717.02 771.02Z" fill="#6fa3d6" stroke="#fff" stroke-width="0.7"/>
<path d="M757.91 772.32L761.91 779.52L753.91 779.52Z" fill="#6fa3d6" stroke="#fff" stroke-width="0.7"/>
<path d="M794.80 790.12L798.80 797.32L790.80 797.32Z" fill="#6fa3d6" stroke="#fff" stroke-width="0.7"/>
<path d="M831.69 788.32L835.69 795.52L827.69 795.52Z" fill="#6fa3d6" stroke="#fff" stroke-width="0.7"/>
<path d="M868.58 772.82L872.58 780.02L864.58 780.02Z" fill="#6fa3d6" stroke="#fff" stroke-width="0.7"/>
<path d="M905.47 782.62L909.47 789.82L901.47 789.82Z" fill="#6fa3d6" stroke="#fff" stroke-width="0.7"/>
<polyline points="425.9,590.0 462.8,637.5 499.7,638.6 536.6,661.0 573.5,704.4 610.3,751.0 647.2,774.5 684.1,774.1 721.0,774.3 757.9,788.3 794.8,794.3 831.7,802.9 868.6,783.6 905.5,797.7" fill="none" stroke="#8fbbe4" stroke-width="1.35"/>
<path d="M425.90 585.82L429.90 593.02L421.90 593.02Z" fill="#6fa3d6" stroke="#fff" stroke-width="0.7"/>
<path d="M462.79 633.32L466.79 640.52L458.79 640.52Z" fill="#6fa3d6" stroke="#fff" stroke-width="0.7"/>
<path d="M499.68 634.42L503.68 641.62L495.68 641.62Z" fill="#6fa3d6" stroke="#fff" stroke-width="0.7"/>
<path d="M536.57 656.82L540.57 664.02L532.57 664.02Z" fill="#6fa3d6" stroke="#fff" stroke-width="0.7"/>
<path d="M573.46 700.22L577.46 707.42L569.46 707.42Z" fill="#6fa3d6" stroke="#fff" stroke-width="0.7"/>
<path d="M610.35 746.82L614.35 754.02L606.35 754.02Z" fill="#6fa3d6" stroke="#fff" stroke-width="0.7"/>
<path d="M647.24 770.32L651.24 777.52L643.24 777.52Z" fill="#6fa3d6" stroke="#fff" stroke-width="0.7"/>
<path d="M684.13 769.92L688.13 777.12L680.13 777.12Z" fill="#6fa3d6" stroke="#fff" stroke-width="0.7"/>
<path d="M721.02 770.12L725.02 777.32L717.02 777.32Z" fill="#6fa3d6" stroke="#fff" stroke-width="0.7"/>
<path d="M757.91 784.12L761.91 791.32L753.91 791.32Z" fill="#6fa3d6" stroke="#fff" stroke-width="0.7"/>
<path d="M794.80 790.12L798.80 797.32L790.80 797.32Z" fill="#6fa3d6" stroke="#fff" stroke-width="0.7"/>
<path d="M831.69 798.72L835.69 805.92L827.69 805.92Z" fill="#6fa3d6" stroke="#fff" stroke-width="0.7"/>
<path d="M868.58 779.42L872.58 786.62L864.58 786.62Z" fill="#6fa3d6" stroke="#fff" stroke-width="0.7"/>
<path d="M905.47 793.52L909.47 800.72L901.47 800.72Z" fill="#6fa3d6" stroke="#fff" stroke-width="0.7"/>
<polyline points="425.9,600.0 462.8,640.6 499.7,640.0 536.6,661.0 573.5,712.0 610.3,756.6 647.2,775.5 684.1,777.7 721.0,774.3 757.9,788.3 794.8,794.3 831.7,802.9 868.6,791.2 905.5,797.7" fill="none" stroke="#8fbbe4" stroke-width="1.35"/>
<path d="M425.90 595.82L429.90 603.02L421.90 603.02Z" fill="#6fa3d6" stroke="#fff" stroke-width="0.7"/>
<path d="M462.79 636.42L466.79 643.62L458.79 643.62Z" fill="#6fa3d6" stroke="#fff" stroke-width="0.7"/>
<path d="M499.68 635.82L503.68 643.02L495.68 643.02Z" fill="#6fa3d6" stroke="#fff" stroke-width="0.7"/>
<path d="M536.57 656.82L540.57 664.02L532.57 664.02Z" fill="#6fa3d6" stroke="#fff" stroke-width="0.7"/>
<path d="M573.46 707.82L577.46 715.02L569.46 715.02Z" fill="#6fa3d6" stroke="#fff" stroke-width="0.7"/>
<path d="M610.35 752.42L614.35 759.62L606.35 759.62Z" fill="#6fa3d6" stroke="#fff" stroke-width="0.7"/>
<path d="M647.24 771.32L651.24 778.52L643.24 778.52Z" fill="#6fa3d6" stroke="#fff" stroke-width="0.7"/>
<path d="M684.13 773.52L688.13 780.72L680.13 780.72Z" fill="#6fa3d6" stroke="#fff" stroke-width="0.7"/>
<path d="M721.02 770.12L725.02 777.32L717.02 777.32Z" fill="#6fa3d6" stroke="#fff" stroke-width="0.7"/>
<path d="M757.91 784.12L761.91 791.32L753.91 791.32Z" fill="#6fa3d6" stroke="#fff" stroke-width="0.7"/>
<path d="M794.80 790.12L798.80 797.32L790.80 797.32Z" fill="#6fa3d6" stroke="#fff" stroke-width="0.7"/>
<path d="M831.69 798.72L835.69 805.92L827.69 805.92Z" fill="#6fa3d6" stroke="#fff" stroke-width="0.7"/>
<path d="M868.58 787.02L872.58 794.22L864.58 794.22Z" fill="#6fa3d6" stroke="#fff" stroke-width="0.7"/>
<path d="M905.47 793.52L909.47 800.72L901.47 800.72Z" fill="#6fa3d6" stroke="#fff" stroke-width="0.7"/>
<polyline points="425.9,604.3 462.8,645.4 499.7,645.0 536.6,665.0 573.5,712.0 610.3,756.6 647.2,779.6 684.1,779.6 721.0,774.3 757.9,788.3 794.8,794.3 831.7,802.9 868.6,791.2 905.5,797.7" fill="none" stroke="#8fbbe4" stroke-width="1.35"/>
<path d="M425.90 600.12L429.90 607.32L421.90 607.32Z" fill="#6fa3d6" stroke="#fff" stroke-width="0.7"/>
<path d="M462.79 641.22L466.79 648.42L458.79 648.42Z" fill="#6fa3d6" stroke="#fff" stroke-width="0.7"/>
<path d="M499.68 640.82L503.68 648.02L495.68 648.02Z" fill="#6fa3d6" stroke="#fff" stroke-width="0.7"/>
<path d="M536.57 660.82L540.57 668.02L532.57 668.02Z" fill="#6fa3d6" stroke="#fff" stroke-width="0.7"/>
<path d="M573.46 707.82L577.46 715.02L569.46 715.02Z" fill="#6fa3d6" stroke="#fff" stroke-width="0.7"/>
<path d="M610.35 752.42L614.35 759.62L606.35 759.62Z" fill="#6fa3d6" stroke="#fff" stroke-width="0.7"/>
<path d="M647.24 775.42L651.24 782.62L643.24 782.62Z" fill="#6fa3d6" stroke="#fff" stroke-width="0.7"/>
<path d="M684.13 775.42L688.13 782.62L680.13 782.62Z" fill="#6fa3d6" stroke="#fff" stroke-width="0.7"/>
<path d="M721.02 770.12L725.02 777.32L717.02 777.32Z" fill="#6fa3d6" stroke="#fff" stroke-width="0.7"/>
<path d="M757.91 784.12L761.91 791.32L753.91 791.32Z" fill="#6fa3d6" stroke="#fff" stroke-width="0.7"/>
<path d="M794.80 790.12L798.80 797.32L790.80 797.32Z" fill="#6fa3d6" stroke="#fff" stroke-width="0.7"/>
<path d="M831.69 798.72L835.69 805.92L827.69 805.92Z" fill="#6fa3d6" stroke="#fff" stroke-width="0.7"/>
<path d="M868.58 787.02L872.58 794.22L864.58 794.22Z" fill="#6fa3d6" stroke="#fff" stroke-width="0.7"/>
<path d="M905.47 793.52L909.47 800.72L901.47 800.72Z" fill="#6fa3d6" stroke="#fff" stroke-width="0.7"/>
<polyline points="425.9,604.3 462.8,648.5 499.7,654.4 536.6,675.1 573.5,724.5 610.3,768.6 647.2,774.1 684.1,779.6 721.0,793.2 757.9,809.0 794.8,812.6 831.7,824.6 868.6,808.3 905.5,812.5" fill="none" stroke="#8fbbe4" stroke-width="1.35"/>
<path d="M425.90 600.12L429.90 607.32L421.90 607.32Z" fill="#6fa3d6" stroke="#fff" stroke-width="0.7"/>
<path d="M462.79 644.32L466.79 651.52L458.79 651.52Z" fill="#6fa3d6" stroke="#fff" stroke-width="0.7"/>
<path d="M499.68 650.22L503.68 657.42L495.68 657.42Z" fill="#6fa3d6" stroke="#fff" stroke-width="0.7"/>
<path d="M536.57 670.92L540.57 678.12L532.57 678.12Z" fill="#6fa3d6" stroke="#fff" stroke-width="0.7"/>
<path d="M573.46 720.32L577.46 727.52L569.46 727.52Z" fill="#6fa3d6" stroke="#fff" stroke-width="0.7"/>
<path d="M610.35 764.42L614.35 771.62L606.35 771.62Z" fill="#6fa3d6" stroke="#fff" stroke-width="0.7"/>
<path d="M647.24 769.92L651.24 777.12L643.24 777.12Z" fill="#6fa3d6" stroke="#fff" stroke-width="0.7"/>
<path d="M684.13 775.42L688.13 782.62L680.13 782.62Z" fill="#6fa3d6" stroke="#fff" stroke-width="0.7"/>
<path d="M721.02 789.02L725.02 796.22L717.02 796.22Z" fill="#6fa3d6" stroke="#fff" stroke-width="0.7"/>
<path d="M757.91 804.82L761.91 812.02L753.91 812.02Z" fill="#6fa3d6" stroke="#fff" stroke-width="0.7"/>
<path d="M794.80 808.42L798.80 815.62L790.80 815.62Z" fill="#6fa3d6" stroke="#fff" stroke-width="0.7"/>
<path d="M831.69 820.42L835.69 827.62L827.69 827.62Z" fill="#6fa3d6" stroke="#fff" stroke-width="0.7"/>
<path d="M868.58 804.12L872.58 811.32L864.58 811.32Z" fill="#6fa3d6" stroke="#fff" stroke-width="0.7"/>
<path d="M905.47 808.32L909.47 815.52L901.47 815.52Z" fill="#6fa3d6" stroke="#fff" stroke-width="0.7"/>
<polyline points="425.9,614.1 462.8,655.7 499.7,660.0 536.6,682.7 573.5,725.0 610.3,768.6 647.2,779.6 684.1,788.3 721.0,799.7 757.9,819.8 794.8,834.4 831.7,831.7 868.6,829.1 905.5,819.7" fill="none" stroke="#8fbbe4" stroke-width="1.35"/>
<path d="M425.90 609.92L429.90 617.12L421.90 617.12Z" fill="#6fa3d6" stroke="#fff" stroke-width="0.7"/>
<path d="M462.79 651.52L466.79 658.72L458.79 658.72Z" fill="#6fa3d6" stroke="#fff" stroke-width="0.7"/>
<path d="M499.68 655.82L503.68 663.02L495.68 663.02Z" fill="#6fa3d6" stroke="#fff" stroke-width="0.7"/>
<path d="M536.57 678.52L540.57 685.72L532.57 685.72Z" fill="#6fa3d6" stroke="#fff" stroke-width="0.7"/>
<path d="M573.46 720.82L577.46 728.02L569.46 728.02Z" fill="#6fa3d6" stroke="#fff" stroke-width="0.7"/>
<path d="M610.35 764.42L614.35 771.62L606.35 771.62Z" fill="#6fa3d6" stroke="#fff" stroke-width="0.7"/>
<path d="M647.24 775.42L651.24 782.62L643.24 782.62Z" fill="#6fa3d6" stroke="#fff" stroke-width="0.7"/>
<path d="M684.13 784.12L688.13 791.32L680.13 791.32Z" fill="#6fa3d6" stroke="#fff" stroke-width="0.7"/>
<path d="M721.02 795.52L725.02 802.72L717.02 802.72Z" fill="#6fa3d6" stroke="#fff" stroke-width="0.7"/>
<path d="M757.91 815.62L761.91 822.82L753.91 822.82Z" fill="#6fa3d6" stroke="#fff" stroke-width="0.7"/>
<path d="M794.80 830.22L798.80 837.42L790.80 837.42Z" fill="#6fa3d6" stroke="#fff" stroke-width="0.7"/>
<path d="M831.69 827.52L835.69 834.72L827.69 834.72Z" fill="#6fa3d6" stroke="#fff" stroke-width="0.7"/>
<path d="M868.58 824.92L872.58 832.12L864.58 832.12Z" fill="#6fa3d6" stroke="#fff" stroke-width="0.7"/>
<path d="M905.47 815.52L909.47 822.72L901.47 822.72Z" fill="#6fa3d6" stroke="#fff" stroke-width="0.7"/>
<rect x="370.8" y="507.4" width="590.2" height="475.0" fill="none" stroke="#1a1a1a" stroke-width="2"/>
<line x1="370.80" y1="982.10" x2="379.30" y2="982.10" stroke="#1a1a1a" stroke-width="2" />
<line x1="370.80" y1="925.99" x2="375.30" y2="925.99" stroke="#1a1a1a" stroke-width="2" />
<line x1="370.80" y1="893.16" x2="375.30" y2="893.16" stroke="#1a1a1a" stroke-width="2" />
<line x1="370.80" y1="869.88" x2="375.30" y2="869.88" stroke="#1a1a1a" stroke-width="2" />
<line x1="370.80" y1="851.81" x2="375.30" y2="851.81" stroke="#1a1a1a" stroke-width="2" />
<line x1="370.80" y1="837.05" x2="375.30" y2="837.05" stroke="#1a1a1a" stroke-width="2" />
<line x1="370.80" y1="824.57" x2="375.30" y2="824.57" stroke="#1a1a1a" stroke-width="2" />
<line x1="370.80" y1="813.76" x2="375.30" y2="813.76" stroke="#1a1a1a" stroke-width="2" />
<line x1="370.80" y1="804.23" x2="375.30" y2="804.23" stroke="#1a1a1a" stroke-width="2" />
<text x="359.50" y="989.85" font-family='"Liberation Serif", serif' font-size="18.8" fill="#333" text-anchor="end" >1</text>
<line x1="370.80" y1="795.70" x2="379.30" y2="795.70" stroke="#1a1a1a" stroke-width="2" />
<line x1="370.80" y1="739.59" x2="375.30" y2="739.59" stroke="#1a1a1a" stroke-width="2" />
<line x1="370.80" y1="706.76" x2="375.30" y2="706.76" stroke="#1a1a1a" stroke-width="2" />
<line x1="370.80" y1="683.48" x2="375.30" y2="683.48" stroke="#1a1a1a" stroke-width="2" />
<line x1="370.80" y1="665.41" x2="375.30" y2="665.41" stroke="#1a1a1a" stroke-width="2" />
<line x1="370.80" y1="650.65" x2="375.30" y2="650.65" stroke="#1a1a1a" stroke-width="2" />
<line x1="370.80" y1="638.17" x2="375.30" y2="638.17" stroke="#1a1a1a" stroke-width="2" />
<line x1="370.80" y1="627.36" x2="375.30" y2="627.36" stroke="#1a1a1a" stroke-width="2" />
<line x1="370.80" y1="617.83" x2="375.30" y2="617.83" stroke="#1a1a1a" stroke-width="2" />
<text x="359.50" y="803.45" font-family='"Liberation Serif", serif' font-size="18.8" fill="#333" text-anchor="end" >10</text>
<line x1="370.80" y1="609.30" x2="379.30" y2="609.30" stroke="#1a1a1a" stroke-width="2" />
<line x1="370.80" y1="553.19" x2="375.30" y2="553.19" stroke="#1a1a1a" stroke-width="2" />
<line x1="370.80" y1="520.36" x2="375.30" y2="520.36" stroke="#1a1a1a" stroke-width="2" />
<text x="359.50" y="617.05" font-family='"Liberation Serif", serif' font-size="18.8" fill="#333" text-anchor="end" >100</text>
<line x1="389.00" y1="982.40" x2="389.00" y2="977.40" stroke="#1a1a1a" stroke-width="2" />
<line x1="425.89" y1="982.40" x2="425.89" y2="977.40" stroke="#1a1a1a" stroke-width="2" />
<line x1="462.78" y1="982.40" x2="462.78" y2="977.40" stroke="#1a1a1a" stroke-width="2" />
<line x1="499.67" y1="982.40" x2="499.67" y2="977.40" stroke="#1a1a1a" stroke-width="2" />
<line x1="536.56" y1="982.40" x2="536.56" y2="977.40" stroke="#1a1a1a" stroke-width="2" />
<line x1="573.45" y1="982.40" x2="573.45" y2="977.40" stroke="#1a1a1a" stroke-width="2" />
<line x1="610.34" y1="982.40" x2="610.34" y2="977.40" stroke="#1a1a1a" stroke-width="2" />
<line x1="647.23" y1="982.40" x2="647.23" y2="977.40" stroke="#1a1a1a" stroke-width="2" />
<line x1="684.12" y1="982.40" x2="684.12" y2="977.40" stroke="#1a1a1a" stroke-width="2" />
<line x1="721.01" y1="982.40" x2="721.01" y2="977.40" stroke="#1a1a1a" stroke-width="2" />
<line x1="757.90" y1="982.40" x2="757.90" y2="977.40" stroke="#1a1a1a" stroke-width="2" />
<line x1="794.79" y1="982.40" x2="794.79" y2="977.40" stroke="#1a1a1a" stroke-width="2" />
<line x1="831.68" y1="982.40" x2="831.68" y2="977.40" stroke="#1a1a1a" stroke-width="2" />
<line x1="868.57" y1="982.40" x2="868.57" y2="977.40" stroke="#1a1a1a" stroke-width="2" />
<line x1="905.46" y1="982.40" x2="905.46" y2="977.40" stroke="#1a1a1a" stroke-width="2" />
<line x1="942.35" y1="982.40" x2="942.35" y2="977.40" stroke="#1a1a1a" stroke-width="2" />
<text x="425.90" y="1004.00" font-family='"Liberation Serif", serif' font-size="17" fill="#3a3a3a" text-anchor="middle" textLength="17.6" lengthAdjust="spacingAndGlyphs">La</text>
<text x="462.79" y="1004.00" font-family='"Liberation Serif", serif' font-size="17" fill="#3a3a3a" text-anchor="middle" textLength="17.6" lengthAdjust="spacingAndGlyphs">Ce</text>
<text x="499.68" y="1004.00" font-family='"Liberation Serif", serif' font-size="17" fill="#3a3a3a" text-anchor="middle" textLength="17.6" lengthAdjust="spacingAndGlyphs">Pr</text>
<text x="536.57" y="1004.00" font-family='"Liberation Serif", serif' font-size="17" fill="#3a3a3a" text-anchor="middle" textLength="17.6" lengthAdjust="spacingAndGlyphs">Nd</text>
<text x="573.46" y="1004.00" font-family='"Liberation Serif", serif' font-size="17" fill="#3a3a3a" text-anchor="middle" textLength="17.6" lengthAdjust="spacingAndGlyphs">Sm</text>
<text x="610.35" y="1004.00" font-family='"Liberation Serif", serif' font-size="17" fill="#3a3a3a" text-anchor="middle" textLength="17.6" lengthAdjust="spacingAndGlyphs">Eu</text>
<text x="647.24" y="1004.00" font-family='"Liberation Serif", serif' font-size="17" fill="#3a3a3a" text-anchor="middle" textLength="17.6" lengthAdjust="spacingAndGlyphs">Gd</text>
<text x="684.13" y="1004.00" font-family='"Liberation Serif", serif' font-size="17" fill="#3a3a3a" text-anchor="middle" textLength="17.6" lengthAdjust="spacingAndGlyphs">Tb</text>
<text x="721.02" y="1004.00" font-family='"Liberation Serif", serif' font-size="17" fill="#3a3a3a" text-anchor="middle" textLength="17.6" lengthAdjust="spacingAndGlyphs">Dy</text>
<text x="757.91" y="1004.00" font-family='"Liberation Serif", serif' font-size="17" fill="#3a3a3a" text-anchor="middle" textLength="17.6" lengthAdjust="spacingAndGlyphs">Ho</text>
<text x="794.80" y="1004.00" font-family='"Liberation Serif", serif' font-size="17" fill="#3a3a3a" text-anchor="middle" textLength="17.6" lengthAdjust="spacingAndGlyphs">Er</text>
<text x="831.69" y="1004.00" font-family='"Liberation Serif", serif' font-size="17" fill="#3a3a3a" text-anchor="middle" textLength="17.6" lengthAdjust="spacingAndGlyphs">Tm</text>
<text x="868.58" y="1004.00" font-family='"Liberation Serif", serif' font-size="17" fill="#3a3a3a" text-anchor="middle" textLength="17.6" lengthAdjust="spacingAndGlyphs">Yb</text>
<text x="905.47" y="1004.00" font-family='"Liberation Serif", serif' font-size="17" fill="#3a3a3a" text-anchor="middle" textLength="17.6" lengthAdjust="spacingAndGlyphs">Lu</text>
<line x1="779.50" y1="527.30" x2="815.40" y2="527.30" stroke="#e8383a" stroke-width="1.5" />
<rect x="794.60" y="524.30" width="6" height="6" fill="#e41a1c" />
<text x="819.60" y="531.80" font-family='"Liberation Serif", serif' font-size="15.6" fill="#222" text-anchor="start" textLength="129" lengthAdjust="spacingAndGlyphs">High-stemmed Cups</text>
<line x1="779.50" y1="552.10" x2="815.40" y2="552.10" stroke="#a8c8ea" stroke-width="1.5" />
<path d="M797.60 548.27L801.20 554.87L794.00 554.87Z" fill="#6fa3d6" />
<text x="819.60" y="556.60" font-family='"Liberation Serif", serif' font-size="15.6" fill="#222" text-anchor="start" textLength="86.4" lengthAdjust="spacingAndGlyphs">Basic Vessels</text>
<line x1="779.50" y1="577.00" x2="815.40" y2="577.00" stroke="#555" stroke-width="1.5" />
<circle cx="797.60" cy="577.00" r="3.2" fill="#000" />
<text x="819.60" y="581.50" font-family='"Liberation Serif", serif' font-size="15.6" fill="#222" text-anchor="start" textLength="85.7" lengthAdjust="spacingAndGlyphs">Clay Samples</text>
<text transform="translate(325.7 744.8) rotate(-90)" x="0" y="0" font-family='"Liberation Serif", serif' font-size="17.9" fill="#222" text-anchor="middle">Chondrite-normalized REE Abundance</text>
</svg></body></html>
